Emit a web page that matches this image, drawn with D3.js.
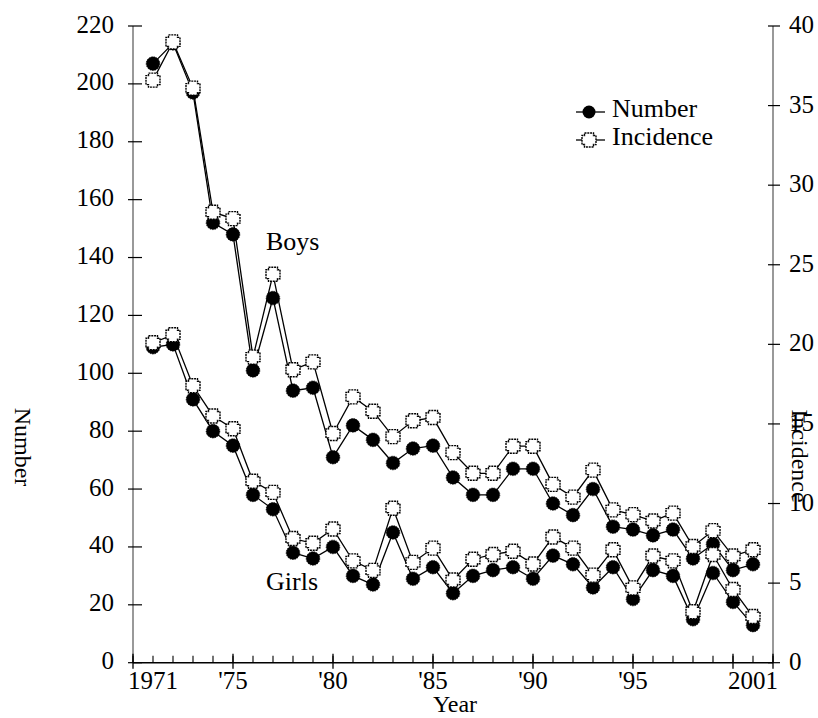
<!DOCTYPE html>
<html>
<head>
<meta charset="utf-8">
<script src="https://cdn.jsdelivr.net/npm/d3@7"></script>
<style>
  html, body { margin: 0; padding: 0; background: #fff; }
  svg text { font-family: "Liberation Serif", "Times New Roman", Times, "DejaVu Serif", serif; }
</style>
</head>
<body>
<svg id="chart" width="818" height="718"></svg>
<script>
// ---- data ----
const years = [1971,1972,1973,1974,1975,1976,1977,1978,1979,1980,1981,1982,1983,1984,1985,1986,1987,1988,1989,1990,1991,1992,1993,1994,1995,1996,1997,1998,1999,2000,2001];
const boysNumber = [207,214,197,152,148,101,126,94,95,71,82,77,69,74,75,64,58,58,67,67,55,51,60,47,46,44,46,36,41,32,34];
const boysIncidence = [36.6,39.0,36.1,28.3,27.9,19.2,24.4,18.4,18.9,14.4,16.7,15.8,14.2,15.2,15.4,13.2,11.9,11.9,13.6,13.6,11.2,10.4,12.1,9.6,9.3,8.9,9.4,7.3,8.3,6.7,7.1];
const girlsNumber = [109,110,91,80,75,58,53,38,36,40,30,27,45,29,33,24,30,32,33,29,37,34,26,33,22,32,30,15,31,21,13];
const girlsIncidence = [20.1,20.6,17.4,15.5,14.7,11.4,10.7,7.8,7.5,8.4,6.4,5.8,9.7,6.3,7.2,5.2,6.5,6.8,7.0,6.2,7.9,7.2,5.5,7.1,4.7,6.7,6.4,3.2,6.8,4.6,2.9];
const numberTicks = [0,20,40,60,80,100,120,140,160,180,200,220];
const incidenceTicks = [0,5,10,15,20,25,30,35,40];
const yearLabelValues = [1971,1975,1980,1985,1990,1995,2001];
const yearLabels = ["1971","'75","'80","'85","'90","'95","2001"];
const majorYears = [1970,1975,1980,1985,1990,1995,2000,2002];
const minorYears = d3.range(1970, 2003);
const legendItems = ["Number", "Incidence"];
const groupLabels = [{text:"Boys", year:1976.65, value:142.5}, {text:"Girls", year:1976.65, value:25.2}];

// ---- layout ----
const FONT = "'Liberation Serif', 'Times New Roman', Times, serif";
const svg = d3.select("#chart");
const x = d3.scaleLinear().domain([1970, 2002]).range([133, 773]);
const yL = d3.scaleLinear().domain([0, 220]).range([662.7, 26]);
const yR = d3.scaleLinear().domain([0, 40]).range([662.7, 26]);

const tickFont = 25;

// Left axis
svg.append("line").attr("x1", x(1970)).attr("x2", x(1970)).attr("y1", yL(0)).attr("y2", yL(220))
  .attr("stroke", "#777").attr("stroke-width", 1.5);
const gl = svg.append("g");
gl.selectAll("line").data(numberTicks).join("line")
  .attr("x1", x(1970) - 5).attr("x2", x(1970) + 9)
  .attr("y1", d => yL(d)).attr("y2", d => yL(d))
  .attr("stroke", "#000").attr("stroke-width", 1.2);
gl.selectAll("text").data(numberTicks).join("text")
  .attr("x", 114).attr("y", d => yL(d)).attr("dy", "0.26em")
  .attr("text-anchor", "end").attr("font-family", FONT).attr("font-size", tickFont).text(d => d);

// Right axis
svg.append("line").attr("x1", x(2002)).attr("x2", x(2002)).attr("y1", yR(0)).attr("y2", yR(40))
  .attr("stroke", "#777").attr("stroke-width", 1.5);
const gr = svg.append("g");
gr.selectAll("line").data(incidenceTicks).join("line")
  .attr("x1", x(2002) - 5).attr("x2", x(2002) + 7)
  .attr("y1", d => yR(d)).attr("y2", d => yR(d))
  .attr("stroke", "#000").attr("stroke-width", 1.2);
gr.selectAll("text").data(incidenceTicks).join("text")
  .attr("x", 789).attr("y", d => yR(d)).attr("dy", "0.28em")
  .attr("text-anchor", "start").attr("font-family", FONT).attr("font-size", tickFont).text(d => d);

// Bottom axis
svg.append("line").attr("x1", x(1970)).attr("x2", x(2002)).attr("y1", yL(0)).attr("y2", yL(0))
  .attr("stroke", "#000").attr("stroke-width", 1.5);
const gb = svg.append("g");
gb.selectAll("line.minor").data(minorYears).join("line").attr("class", "minor")
  .attr("x1", d => x(d)).attr("x2", d => x(d)).attr("y1", yL(0)).attr("y2", yL(0) - 7)
  .attr("stroke", "#000").attr("stroke-width", 1.1);
gb.selectAll("line.major").data(majorYears).join("line").attr("class", "major")
  .attr("x1", d => x(d)).attr("x2", d => x(d)).attr("y1", yL(0) + 6).attr("y2", yL(0) - 9)
  .attr("stroke", "#000").attr("stroke-width", 1.3);
gb.selectAll("text").data(yearLabelValues).join("text")
  .attr("x", d => x(d)).attr("y", 689)
  .attr("text-anchor", "middle").attr("font-family", FONT).attr("font-size", 25)
  .text((d, i) => yearLabels[i]);

// Axis titles
svg.append("text").attr("transform", "translate(15,447) rotate(90)")
  .attr("text-anchor", "middle").attr("font-family", FONT).attr("font-size", 24).text("Number");
svg.append("text").attr("transform", "translate(792,456) rotate(90)")
  .attr("text-anchor", "middle").attr("font-family", FONT).attr("font-size", 24).text("Incidence");
svg.append("text").attr("x", 455).attr("y", 712)
  .attr("text-anchor", "middle").attr("font-family", FONT).attr("font-size", 24).text("Year");

// Marker shapes
const s = 7, c = 2.5;
const crossPath = `M${-s+c},${-s}L${s-c},${-s}L${s-c},${-s+c}L${s},${-s+c}L${s},${s-c}L${s-c},${s-c}L${s-c},${s}L${-s+c},${s}L${-s+c},${s-c}L${-s},${s-c}L${-s},${-s+c}L${-s+c},${-s+c}Z`;

function drawSeries(values, scale) {
  const pts = years.map((yr, i) => [x(yr), scale(values[i])]);
  svg.append("path").attr("d", d3.line()(pts))
    .attr("fill", "none").attr("stroke", "#000").attr("stroke-width", 1.3);
  return pts;
}
function drawMarkers(pts, filled) {
  if (filled) {
    svg.append("g").selectAll("circle").data(pts).join("circle")
      .attr("cx", d => d[0]).attr("cy", d => d[1]).attr("r", 6.8)
      .attr("fill", "#000").attr("stroke", "#000").attr("stroke-width", 0.8)
      .attr("stroke-dasharray", "1.5,1");
  } else {
    svg.append("g").selectAll("path").data(pts).join("path")
      .attr("d", crossPath).attr("transform", d => `translate(${d[0]},${d[1]})`)
      .attr("fill", "#fff").attr("stroke", "#000").attr("stroke-width", 1.4)
      .attr("stroke-dasharray", "2,0.8");
  }
}
const bN = drawSeries(boysNumber, yL);
const bI = drawSeries(boysIncidence, yR);
const gN = drawSeries(girlsNumber, yL);
const gI = drawSeries(girlsIncidence, yR);
drawMarkers(bN, true); drawMarkers(gN, true);
drawMarkers(bI, false); drawMarkers(gI, false);

// Group labels
svg.append("g").selectAll("text").data(groupLabels).join("text")
  .attr("x", d => x(d.year)).attr("y", d => yL(d.value))
  .attr("font-family", FONT).attr("font-size", 26).text(d => d.text);

// Legend
const lg = svg.append("g");
legendItems.forEach((name, i) => {
  const cy = 112 + i * 28;
  lg.append("line").attr("x1", 576).attr("x2", 605).attr("y1", cy).attr("y2", cy)
    .attr("stroke", "#000").attr("stroke-width", 1.3);
  if (i === 0) {
    lg.append("circle").attr("cx", 589).attr("cy", cy).attr("r", 6.5).attr("fill", "#000");
  } else {
    lg.append("path").attr("d", crossPath).attr("transform", `translate(589,${cy})`)
      .attr("fill", "#fff").attr("stroke", "#000").attr("stroke-width", 1.4)
      .attr("stroke-dasharray", "2,0.8");
  }
  lg.append("text").attr("x", 612).attr("y", cy + 5)
    .attr("font-family", FONT).attr("font-size", 26).text(name);
});
</script>
</body>
</html>
